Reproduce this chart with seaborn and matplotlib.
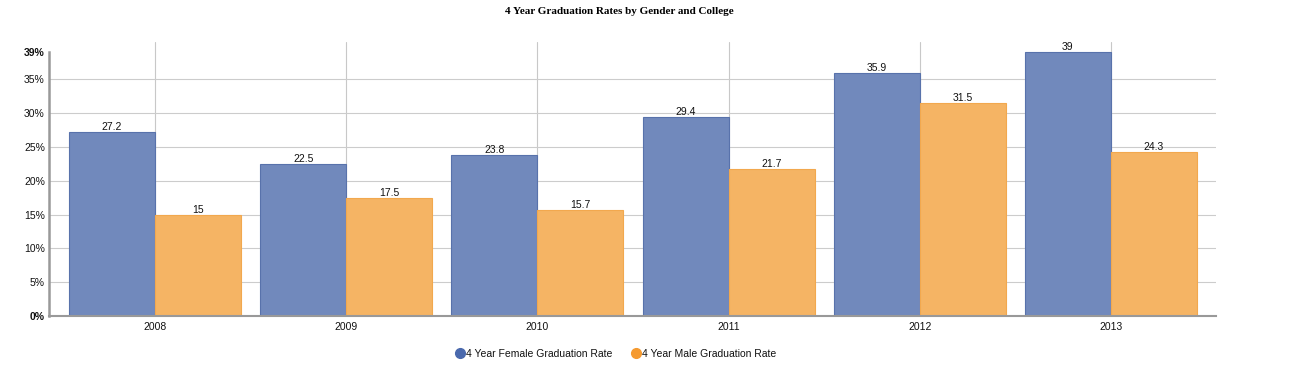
import matplotlib
matplotlib.use("Agg")
import matplotlib.pyplot as plt
import seaborn as sns
import pandas as pd
from matplotlib.lines import Line2D

years = ["2008", "2009", "2010", "2011", "2012", "2013"]
female = [27.2, 22.5, 23.8, 29.4, 35.9, 39]
male = [15, 17.5, 15.7, 21.7, 31.5, 24.3]
series = ["4 Year Female Graduation Rate", "4 Year Male Graduation Rate"]
y_ticks = [0, 5, 10, 15, 20, 25, 30, 35, 39]

df = pd.DataFrame({
    "year": years * 2,
    "rate": female + male,
    "series": [series[0]] * len(years) + [series[1]] * len(years),
})

sns.set_style("white")
plt.rcParams["font.family"] = ["Liberation Sans", "DejaVu Sans"]
plt.rcParams["text.color"] = "#111111"
plt.rcParams["xtick.color"] = "#111111"
plt.rcParams["ytick.color"] = "#111111"

fig = plt.figure(figsize=(13, 3.68), dpi=100)
ax = fig.add_axes([0.0377, 0.1413, 0.8977, 0.7447])

bar_fill = ["#7189bc", "#f5b464"]
bar_edge = ["#5872ab", "#f2a84e"]
sns.barplot(data=df, x="year", y="rate", hue="series", palette=bar_fill,
            width=0.9, gap=0, saturation=1, legend=False, ax=ax)

for i, cont in enumerate(ax.containers):
    for b in cont:
        b.set_edgecolor(bar_edge[i])
        b.set_linewidth(0.8)
    ax.bar_label(cont, labels=[f"{v:g}" for v in (female if i == 0 else male)],
                 padding=0, fontsize=7.5, color="#111111")

ax.set_xlim(-0.555, 5.55)
ax.set_ylim(0, 40.5)
ax.set_yticks(y_ticks)
ax.set_yticklabels([f"{t}%" for t in y_ticks], fontsize=7.5)
for lbl, t in zip(ax.get_yticklabels(), y_ticks):
    if t in (0, 39):
        lbl.set_fontweight("bold")
ax.tick_params(axis="x", labelsize=7.5, length=0, pad=4)
ax.tick_params(axis="y", length=0, pad=3)

ax.set_axisbelow(True)
ax.yaxis.grid(True, color="#cccccc", linewidth=0.8)
ax.xaxis.grid(True, color="#c8c8c8", linewidth=0.8)
# no horizontal gridline at the 0% and 39% ticks
ax.yaxis.get_gridlines()[-1].set_visible(False)
ax.yaxis.get_gridlines()[0].set_visible(False)

ax.set_xlabel("")
ax.set_ylabel("")
for s in ["top", "right"]:
    ax.spines[s].set_visible(False)
ax.spines["left"].set_color("#999999")
ax.spines["left"].set_linewidth(1.8)
ax.spines["left"].set_bounds(0, 39)
ax.spines["bottom"].set_color("#999999")
ax.spines["bottom"].set_linewidth(1.5)

fig.text(619 / 1300, 1 - 12 / 368, "4 Year Graduation Rates by Gender and College",
         ha="center", va="center", fontsize=8, fontweight="bold", color="black",
         family=["Liberation Serif", "DejaVu Serif"])

handles = [
    Line2D([], [], marker="o", linestyle="", markersize=7, color="#4a69ad"),
    Line2D([], [], marker="o", linestyle="", markersize=7, color="#f59a30"),
]
fig.legend(handles, series, loc="center", bbox_to_anchor=(615 / 1300, 1 - 354 / 368),
           ncol=2, frameon=False, fontsize=7.5, handletextpad=0.0,
           columnspacing=1.6, handlelength=1.2)

fig.savefig("out.png", dpi=100)
